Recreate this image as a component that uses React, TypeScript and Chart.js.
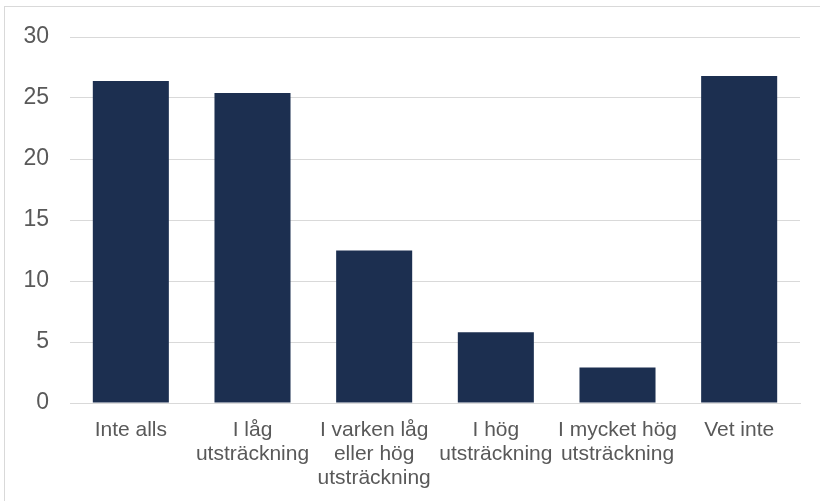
import React, { useEffect, useRef } from "react";
import { Chart, registerables } from "chart.js";

Chart.register(...registerables);

const categories: string[][] = [
  ["Inte alls"],
  ["I låg", "utsträckning"],
  ["I varken låg", "eller hög", "utsträckning"],
  ["I hög", "utsträckning"],
  ["I mycket hög", "utsträckning"],
  ["Vet inte"],
];
const values: number[] = [26.4, 25.4, 12.5, 5.8, 2.9, 26.8];
const yTicks = { min: 0, max: 30, step: 5 };

export default function App() {
  const ref = useRef<HTMLCanvasElement | null>(null);
  useEffect(() => {
    if (!ref.current) return;
    const chart = new Chart(ref.current, {
      type: "bar",
      data: {
        labels: categories,
        datasets: [
          {
            data: values,
            backgroundColor: "#1c2f50",
            borderWidth: 0,
            categoryPercentage: 1,
            barPercentage: 0.625,
          },
        ],
      },
      options: {
        animation: false,
        responsive: false,
        maintainAspectRatio: false,
        layout: { padding: { left: 0, right: 20, top: 37, bottom: 0 } },
        plugins: { legend: { display: false }, tooltip: { enabled: false } },
        scales: {
          x: {
            grid: { display: false, drawTicks: false },
            border: { display: true, color: "#d9d9d9", width: 1 },
            ticks: {
              color: "#595959",
              font: { family: "'Liberation Sans', Arial, sans-serif", size: 21, lineHeight: "24px" },
              padding: 15,
              maxRotation: 0,
              autoSkip: false,
            },
            afterFit: (s: any) => {
              s.height = 98;
            },
          },
          y: {
            min: yTicks.min,
            max: yTicks.max,
            grid: { color: "#d9d9d9", lineWidth: 1, drawTicks: false },
            border: { display: false },
            ticks: {
              stepSize: yTicks.step,
              color: "#595959",
              font: { family: "'Liberation Sans', Arial, sans-serif", size: 23 },
              padding: 21,
            },
            afterFit: (s: any) => {
              s.width = 70;
            },
          },
        },
      },
    });
    return () => chart.destroy();
  }, []);
  return (
    <div style={{ position: "fixed", left: 0, top: 0, width: 820, height: 501, background: "#fff", overflow: "hidden" }}>
      <div
        style={{
          position: "absolute",
          left: 4,
          top: 6,
          width: 900,
          height: 600,
          border: "1px solid #d9d9d9",
        }}
      />
      <canvas ref={ref} width={820} height={501} style={{ position: "absolute", left: 0, top: 0, width: 820, height: 501 }} />
    </div>
  );
}
